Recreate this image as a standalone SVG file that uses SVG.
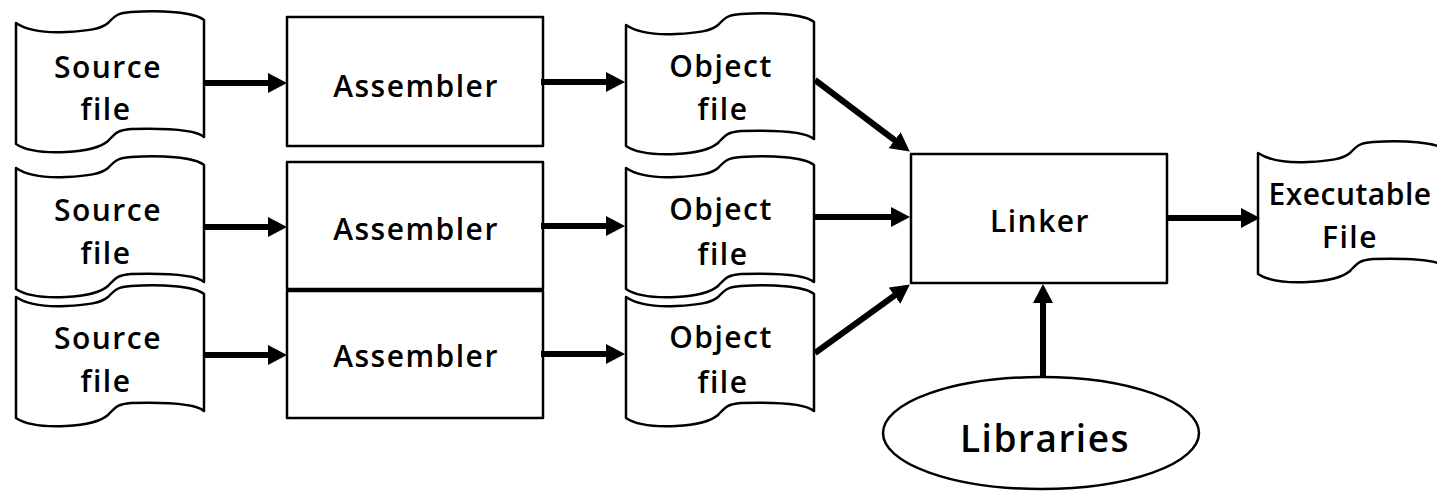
<svg xmlns="http://www.w3.org/2000/svg" xmlns:xlink="http://www.w3.org/1999/xlink" width="1437" height="491" viewBox="0 0 1437 491">
  <style>
    .shape { fill: #ffffff; stroke: #000000; stroke-width: 2.5; stroke-linejoin: round; }
    .label { font-family: "Comic Sans MS", "Open Sans", "Liberation Sans", sans-serif; font-weight: 600; font-size: 30px; letter-spacing: 1.5px; fill: #000000; text-anchor: middle; }
    .tight { letter-spacing: 0.5px; }
    .big { font-size: 37px; }
    .arrow { fill: none; stroke: #000000; stroke-width: 6; marker-end: url(#head); }
  </style>
  <defs>
    <!-- punched-tape file symbol, origin at the top-left corner -->
    <path id="tape" d="M0,0 C12,8 30,10 50,9 C72,8 85,6 92,0 C98,-6 100,-10 115,-11 C145,-13 178,-11 188,-3 L188,114 C180,107 150,105 115,106 C100,107 98,112 92,118 C85,124 72,128 50,129 C30,130 12,129 0,121 Z"/>
    <marker id="head" markerUnits="userSpaceOnUse" markerWidth="19" markerHeight="20" refX="13" refY="10" orient="auto">
      <path d="M0,0 L19,10 L0,20 Z" fill="#000000"/>
    </marker>
  </defs>
  <rect width="1437" height="491" fill="#ffffff"/>

  <!-- source files -->
  <g id="source1">
    <use xlink:href="#tape" class="shape" transform="translate(16,23)"/>
    <text class="label" x="108" y="78">Source</text>
    <text class="label" x="106" y="120">file</text>
  </g>
  <g id="source2">
    <use xlink:href="#tape" class="shape" transform="translate(16,168)"/>
    <text class="label" x="108" y="221">Source</text>
    <text class="label" x="106" y="264">file</text>
  </g>
  <g id="source3">
    <use xlink:href="#tape" class="shape" transform="translate(16,297)"/>
    <text class="label" x="108" y="349">Source</text>
    <text class="label" x="106" y="392">file</text>
  </g>

  <!-- assemblers -->
  <g id="assembler1">
    <rect class="shape" x="287" y="17" width="256" height="129"/>
    <text class="label" x="416" y="97">Assembler</text>
  </g>
  <g id="assembler2">
    <rect class="shape" x="287" y="162" width="256" height="127"/>
    <text class="label" x="416" y="240">Assembler</text>
  </g>
  <g id="assembler3">
    <rect class="shape" x="287" y="291" width="256" height="127"/>
    <text class="label" x="416" y="367">Assembler</text>
  </g>

  <!-- object files -->
  <g id="object1">
    <use xlink:href="#tape" class="shape" transform="translate(626,25)"/>
    <text class="label" x="721" y="77">Object</text>
    <text class="label" x="723" y="120">file</text>
  </g>
  <g id="object2">
    <use xlink:href="#tape" class="shape" transform="translate(626,168)"/>
    <text class="label" x="721" y="220">Object</text>
    <text class="label" x="723" y="265">file</text>
  </g>
  <g id="object3">
    <use xlink:href="#tape" class="shape" transform="translate(626,297)"/>
    <text class="label" x="721" y="348">Object</text>
    <text class="label" x="723" y="393">file</text>
  </g>

  <!-- linker -->
  <g id="linker">
    <rect class="shape" x="911" y="154" width="256" height="129"/>
    <text class="label" x="1040" y="232">Linker</text>
  </g>

  <!-- executable -->
  <g id="executable">
    <use xlink:href="#tape" class="shape" transform="translate(1258,153)"/>
    <text class="label tight" x="1350" y="205">Executable</text>
    <text class="label" x="1350" y="248">File</text>
  </g>

  <!-- libraries -->
  <g id="libraries">
    <ellipse class="shape" cx="1041" cy="433" rx="158" ry="56" stroke-width="2"/>
    <text class="label big" x="1045" y="452">Libraries</text>
  </g>

  <g id="connectors">
    <line class="arrow" x1="204" y1="83" x2="281" y2="83"/>
    <line class="arrow" x1="204" y1="227" x2="281" y2="227"/>
    <line class="arrow" x1="204" y1="355" x2="281" y2="355"/>
    <line class="arrow" x1="541" y1="82" x2="619" y2="82"/>
    <line class="arrow" x1="541" y1="226" x2="619" y2="226"/>
    <line class="arrow" x1="541" y1="354" x2="619" y2="354"/>
    <line class="arrow" x1="815" y1="80" x2="905" y2="148"/>
    <line class="arrow" x1="815" y1="217" x2="904" y2="217"/>
    <line class="arrow" x1="815" y1="353" x2="905" y2="288"/>
    <line class="arrow" x1="1167" y1="218" x2="1254" y2="218"/>
    <line class="arrow" x1="1043" y1="377" x2="1043" y2="290"/>
  </g>
</svg>
